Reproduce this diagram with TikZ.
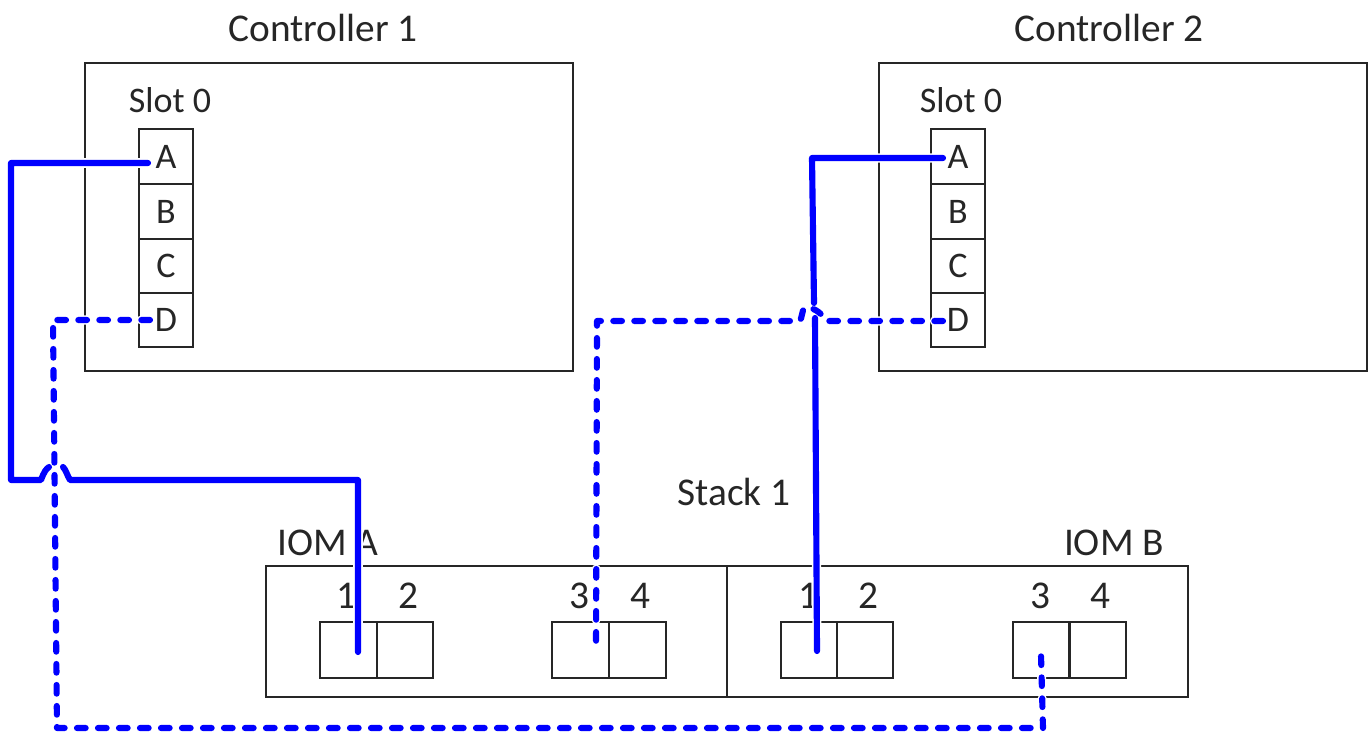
\documentclass[tikz,border=0pt]{standalone}
\usepackage{fontspec}
\setmainfont{Carlito}
\tikzset{
  x=0.75pt,y=-0.75pt,
  boxline/.style={draw=black!85,line width=1.5pt,inner sep=0pt,outer sep=0pt,fill=white},
  ctrlbox/.style={boxline,minimum width=366pt,minimum height=231pt},
  slotport/.style={boxline,minimum width=40.5pt,minimum height=41pt,font=\fontsize{27}{30}\selectfont,text=black!85},
  iombox/.style={boxline,minimum width=345.75pt,minimum height=98.25pt},
  ioport/.style={boxline,minimum width=42.5pt,minimum height=42pt},
  lbl/.style={inner sep=0pt,text=black!85,font=\fontsize{29.5}{32}\selectfont},
  slotlbl/.style={lbl,font=\fontsize{27}{30}\selectfont},
  halo/.style={draw=white,line width=6.8pt,line join=round},
  cable/.style={draw=blue,line width=4.6pt,line cap=round,line join=round},
  dashcable/.style={cable,dash pattern=on 6.5pt off 9.25pt},
  halodash/.style={halo,line cap=round,dash pattern=on 6.5pt off 9.25pt},
}
\begin{document}
\begin{tikzpicture}
\useasboundingbox (0,0) rectangle (1370,734);
\fill[white] (0,0) rectangle (1370,734);
% controllers
\node[ctrlbox] (c1) at (329,217) {};
\node[ctrlbox] (c2) at (1123,217) {};
\node[lbl] (c1t) at (323,28) {Controller 1};
\node[lbl] (c2t) at (1109,28) {Controller 2};
\node[slotlbl] (s1t) at (170,100) {Slot 0};
\node[slotlbl] (s2t) at (961,100) {Slot 0};
% slot ports
\node[slotport] (c1a) at (166,156.5) {A};
\node[slotport] (c1b) at (166,211.5) {B};
\node[slotport] (c1c) at (166,266) {C};
\node[slotport] (c1d) at (166,320) {D};
\node[slotport] (c2a) at (958,156.5) {A};
\node[slotport] (c2b) at (958,211.5) {B};
\node[slotport] (c2c) at (958,266) {C};
\node[slotport] (c2d) at (958,320) {D};
% stack
\node[lbl] (stack) at (734,492) {Stack 1};
\node[lbl] (ioma) at (328,543) {IOM A};
\node[lbl] (iomb) at (1114,543) {IOM B};
\node[iombox] (ia) at (496.5,631.5) {};
\node[iombox] (ib) at (957.5,631.5) {};
\node[lbl] (n1a) at (346,596) {1};
\node[lbl] (n2a) at (408,596) {2};
\node[lbl] (n3a) at (579,596) {3};
\node[lbl] (n4a) at (640,596) {4};
\node[lbl] (n1b) at (808,596) {1};
\node[lbl] (n2b) at (868,596) {2};
\node[lbl] (n3b) at (1040,596) {3};
\node[lbl] (n4b) at (1100,596) {4};
\node[ioport] (p1a) at (348.5,650) {};
\node[ioport] (p2a) at (405,650) {};
\node[ioport] (p3a) at (580.5,650) {};
\node[ioport] (p4a) at (637.5,650) {};
\node[ioport] (p1b) at (809,650) {};
\node[ioport] (p2b) at (865,650) {};
\node[ioport] (p3b) at (1041,650) {};
\node[ioport] (p4b) at (1098,650) {};
% free ends of the cables, inside the ports
\coordinate (e1) at (148,163);
\coordinate (e2) at (358,652);
\coordinate (e3) at (150,320);
\coordinate (e4) at (1041,655);
\coordinate (e5) at (943,158);
\coordinate (e6) at (817,651);
\coordinate (e7) at (943,321);
\coordinate (e8) at (596,652);
% halos
\draw[halo] (e1) -- (11,163) -- (11,480) -- (40,480);
\draw[halo] (70,480) -- (358,480) -- (e2);
\draw[halo] (e5) -- (812,158) -- (814,303);
\draw[halo] (815,318) -- (e6);
\draw[halodash] (e3) -- (53,320) -- (57,728) -- (1043,728) -- (e4);
\draw[halodash] (e7) -- (826,321) .. controls (821,311) and (810,306) .. (804,308) .. controls (802,312) and (802,317) .. (800,321) -- (597,321) -- (e8);
% cables
\draw[cable] (e1) -- (11,163) -- (11,480) -- (41,480) .. controls (44,472) and (46,469) .. (49,467);
\draw[cable] (63,467) .. controls (66,470) and (67,475) .. (70,480) -- (358,480) -- (e2);
\draw[cable] (e5) -- (812,158) -- (814,303);
\draw[cable] (815,318) -- (e6);
\draw[dashcable] (e3) -- (53,320) -- (57,728) -- (1043,728) -- (e4);
\draw[dashcable] (e7) -- (826,321) .. controls (821,311) and (810,306) .. (804,308) .. controls (802,312) and (802,317) .. (800,321) -- (597,321) -- (e8);
\end{tikzpicture}
\end{document}
